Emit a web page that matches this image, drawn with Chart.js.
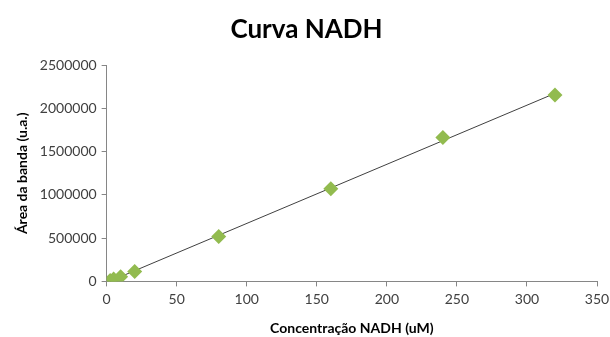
<!DOCTYPE html>
<html>
<head>
    <title>Curva NADH</title>
    <script src="https://cdn.jsdelivr.net/npm/chart.js@4/dist/chart.umd.min.js"></script>
    <style>
        body { margin: 0; background: #fff; }
        #wrap { width: 610px; height: 337px; }
    </style>
</head>
<body>
    <div id="wrap"><canvas id="nadh-chart" width="610" height="337"></canvas></div>

    <script>
        // concentration (uM) and band area (u.a.)
        var concentracao = [2.5, 5, 10, 20, 80, 160, 240, 320];
        var area = [10000, 28000, 55000, 115000, 520000, 1070000, 1665000, 2155000];
        var xTicks = [0, 50, 100, 150, 200, 250, 300, 350];
        var yTicks = [0, 500000, 1000000, 1500000, 2000000, 2500000];

        var points = concentracao.map(function(c, i) { return { x: c, y: area[i] }; });

        // linear trendline (least squares) over the data range
        var n = points.length, sx = 0, sy = 0, sxy = 0, sxx = 0;
        points.forEach(function(p) { sx += p.x; sy += p.y; sxy += p.x * p.y; sxx += p.x * p.x; });
        var slope = (n * sxy - sx * sy) / (n * sxx - sx * sx);
        var intercept = (sy - slope * sx) / n;
        var xMin = Math.min.apply(null, concentracao), xMax = Math.max.apply(null, concentracao);
        var trend = [
            { x: xMin, y: slope * xMin + intercept },
            { x: xMax, y: slope * xMax + intercept }
        ];

        var font = "Lato, 'Open Sans', sans-serif";
        var axisColor = '#868686';

        var ctx = document.getElementById('nadh-chart').getContext('2d');
        new Chart(ctx, {
            type: 'scatter',
            data: {
                datasets: [{
                    data: trend,
                    showLine: true,
                    borderColor: '#404040',
                    borderWidth: 1,
                    pointRadius: 0,
                    order: 1
                }, {
                    data: points,
                    pointStyle: 'rectRot',
                    pointRadius: 7.5,
                    pointHoverRadius: 7.5,
                    backgroundColor: '#92BB4F',
                    borderColor: '#92BB4F',
                    borderWidth: 0,
                    order: 0
                }]
            },
            options: {
                responsive: false,
                animation: false,
                layout: { padding: { left: 10, right: 7, top: 6, bottom: 0 } },
                plugins: {
                    legend: { display: false },
                    tooltip: { enabled: false },
                    title: {
                        display: true,
                        text: 'Curva NADH',
                        color: '#000',
                        font: { family: font, size: 26, weight: 'bold' },
                        padding: { top: 8, bottom: 20 }
                    }
                },
                scales: {
                    x: {
                        type: 'linear',
                        min: 0,
                        max: 350,
                        afterBuildTicks: function(axis) { axis.ticks = xTicks.map(function(v) { return { value: v }; }); },
                        afterFit: function(axis) { axis.paddingRight = 13; },
                        border: { color: axisColor },
                        grid: { drawOnChartArea: false, drawTicks: true, tickLength: 5, color: axisColor },
                        ticks: { color: '#404040', font: { family: font, size: 14 }, maxRotation: 0, padding: 5 },
                        title: {
                            display: true,
                            text: 'Concentração NADH (uM)',
                            color: '#000',
                            font: { family: font, size: 14, weight: 'bold' },
                            padding: { top: 7, bottom: 0 }
                        }
                    },
                    y: {
                        type: 'linear',
                        min: 0,
                        max: 2500000,
                        afterBuildTicks: function(axis) { axis.ticks = yTicks.map(function(v) { return { value: v }; }); },
                        border: { color: axisColor },
                        grid: { drawOnChartArea: false, drawTicks: true, tickLength: 5, color: axisColor },
                        ticks: {
                            color: '#404040',
                            font: { family: font, size: 14 },
                            padding: 5,
                            callback: function(v) { return String(v); }
                        },
                        title: {
                            display: true,
                            text: 'Área da banda (u.a.)',
                            color: '#000',
                            font: { family: font, size: 14, weight: 'bold' },
                            padding: { bottom: 4 }
                        }
                    }
                }
            }
        });
    </script>
</body>
</html>
